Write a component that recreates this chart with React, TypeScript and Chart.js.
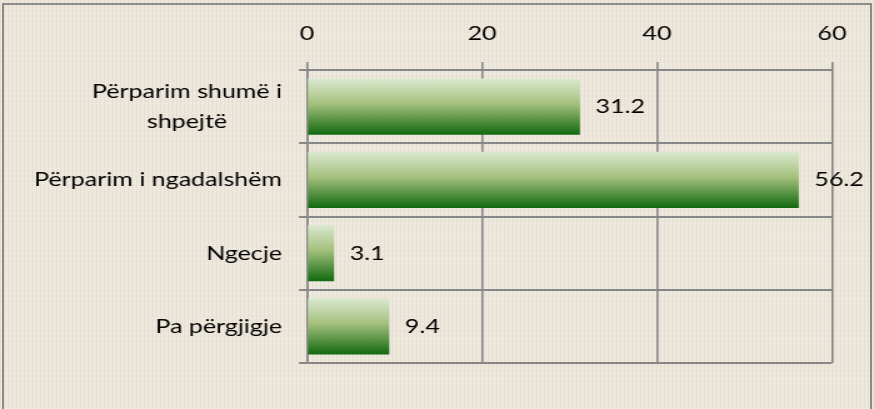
import React, { useEffect, useRef } from "react";
import { Chart, registerables } from "chart.js";

Chart.register(...registerables);

const categories: string[][] = [
  ["Përparim shumë i", "shpejtë"],
  ["Përparim i ngadalshëm"],
  ["Ngecje"],
  ["Pa përgjigje"],
];
const values = [31.2, 56.2, 3.1, 9.4];
const xTicks = [0, 20, 40, 60];

// The reference chart is horizontally stretched; draw narrow and stretch.
const W = 874;
const H = 409;
const SX = 1.25;
const CW = Math.round(W / SX);
const sx = W / CW;

const FONT = "Lato, 'Liberation Sans', sans-serif";
const FSIZE = 20;
const GRID = "#878787";
const BAR_PCT = 0.77;
const TICK_H = 8 / sx;

const labelsPlugin = {
  id: "labelsPlugin",
  afterDatasetsDraw(chart: any) {
    const ctx = chart.ctx;
    const meta = chart.getDatasetMeta(0);
    const ys = chart.scales.y;
    ctx.save();
    ctx.font = `${FSIZE}px ${FONT}`;
    ctx.fillStyle = "#000";
    ctx.textBaseline = "middle";
    // value labels
    ctx.textAlign = "left";
    meta.data.forEach((el: any, i: number) => {
      ctx.fillText(String(values[i]), el.x + 12.5, el.y);
    });
    // category labels (multi-line centred as a block, block right-aligned)
    const rightX = chart.chartArea.left - TICK_H - 13.6;
    const lh = 30;
    categories.forEach((lines, i) => {
      const cy = ys.getPixelForValue(i);
      const wmax = Math.max(...lines.map((l) => ctx.measureText(l).width));
      const cx = rightX - wmax / 2;
      ctx.textAlign = "center";
      lines.forEach((l, k) => {
        const y = cy + (k - (lines.length - 1) / 2) * lh;
        ctx.fillText(l, cx, y);
      });
    });
    ctx.restore();
  },
};

export default function App() {
  const ref = useRef<HTMLCanvasElement>(null);
  useEffect(() => {
    document.body.style.margin = "0";
    const canvas = ref.current!;
    const chart = new Chart(canvas, {
      type: "bar",
      data: {
        labels: categories.map((c) => c.join(" ")),
        datasets: [
          {
            data: values,
            barPercentage: BAR_PCT,
            categoryPercentage: 1,
            backgroundColor: (c: any) => {
              const ch = c.chart;
              const ys = ch.scales && ch.scales.y;
              if (!ys || c.dataIndex === undefined) return "#5f9a45";
              const center = ys.getPixelForValue(c.dataIndex);
              const half = ((ys.bottom - ys.top) / categories.length) * BAR_PCT / 2;
              if (!isFinite(center) || !isFinite(half) || half <= 0) return "#5f9a45";
              const g = ch.ctx.createLinearGradient(0, center - half, 0, center + half);
              g.addColorStop(0, "#dbe9d0");
              g.addColorStop(0.45, "#a4c07d");
              g.addColorStop(1, "#11690f");
              return g;
            },
            borderWidth: 0,
          },
        ],
      },
      options: {
        indexAxis: "y",
        animation: false,
        responsive: false,
        maintainAspectRatio: false,
        devicePixelRatio: 1,
        layout: { padding: { left: 0, top: 0, right: (W - 832) / sx, bottom: 46 } },
        plugins: { legend: { display: false }, tooltip: { enabled: false } },
        scales: {
          x: {
            position: "top",
            min: 0,
            max: 60,
            afterBuildTicks: (s: any) => {
              s.ticks = xTicks.map((v) => ({ value: v }));
            },
            afterFit: (s: any) => {
              s.height = 70;
            },
            ticks: {
              color: "#000",
              font: { family: FONT, size: FSIZE },
              padding: 16,
            },
            grid: { color: GRID, lineWidth: 2 / sx, tickLength: 8, drawTicks: true },
            border: { color: GRID, width: 2 },
          },
          y: {
            afterFit: (s: any) => {
              s.width = 307 / sx;
            },
            ticks: { display: false },
            grid: { color: GRID, lineWidth: 2, tickLength: TICK_H, offset: true },
            border: { color: GRID, width: 2 / sx },
          },
        },
      },
      plugins: [labelsPlugin],
    } as any);
    chart.update();
    return () => chart.destroy();
  }, []);

  return (
    <div
      style={{
        position: "absolute",
        left: 0,
        top: 0,
        width: W,
        height: H,
        overflow: "hidden",
        backgroundColor: "#ece6db",
        backgroundImage:
          "repeating-linear-gradient(90deg, rgba(180,170,150,0.10) 0px, rgba(180,170,150,0.10) 1px, transparent 1px, transparent 4px), repeating-linear-gradient(0deg, rgba(255,255,255,0.18) 0px, rgba(255,255,255,0.18) 1px, transparent 1px, transparent 5px)",
      }}
    >
      <div
        style={{
          position: "absolute",
          left: 2,
          top: 3,
          width: 870,
          height: 420,
          border: "2px solid #8c8c8c",
          boxSizing: "border-box",
        }}
      />
      <canvas
        ref={ref}
        width={CW}
        height={H}
        style={{
          position: "absolute",
          left: 0,
          top: 0,
          transform: `scaleX(${sx})`,
          transformOrigin: "0 0",
        }}
      />
    </div>
  );
}
